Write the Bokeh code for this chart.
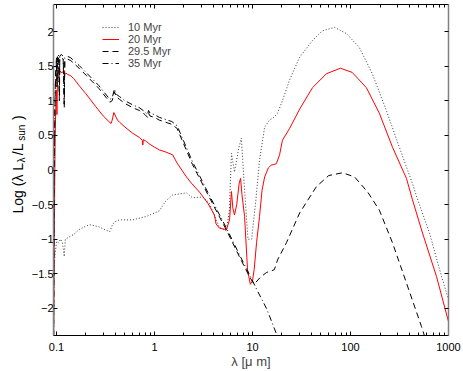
import math
from bokeh.plotting import figure
from bokeh.models import (LogAxis, LinearAxis, FixedTicker, CustomJSTickFormatter,
                          Legend, LegendItem, Label, Range1d)
from bokeh.embed import file_html
from bokeh.resources import INLINE

# ---------------- data ----------------
series_names = ["10 Myr", "20 Myr", "29.5 Myr", "35 Myr"]

wl_10 = [0.0935, 0.094, 0.095, 0.097, 0.099, 0.1, 0.105, 0.11, 0.115, 0.12, 0.123, 0.13,
         0.15, 0.17, 0.2, 0.22, 0.27, 0.32, 0.35, 0.37, 0.39, 0.44, 0.6, 0.83, 1.12, 1.3,
         1.53, 2.12, 2.44, 3.1, 3.6, 4.1, 4.6, 5.4, 5.8, 6.1, 6.55, 7.2, 7.7, 8.3, 9.0,
         9.8, 10.8, 11.8, 13.3, 14.9, 16.5, 18.0, 20.2, 23.9, 30.3, 41, 51.6, 68.8, 91,
         123, 167, 232, 315, 430, 485, 640, 850, 1000]
lum_10 = [-2.35, -1.6, -1.35, -1.2, -1.1, -1.03, -1.05, -1.0, -1.05, -1.25, -1.0, -0.98,
          -0.93, -0.86, -0.81, -0.79, -0.82, -0.87, -0.89, -0.8, -0.75, -0.72, -0.72, -0.67,
          -0.59, -0.45, -0.36, -0.33, -0.40, -0.39, -0.47, -0.66, -0.83, -0.88, -0.6, 0.24,
          -0.03, 0.3, 0.46, -0.29, -1.0, -1.0, -0.45, 0.14, 0.62, 0.72, 0.76, 0.82, 1.0,
          1.3, 1.63, 1.87, 2.01, 2.06, 1.97, 1.77, 1.39, 0.86, 0.33, -0.2, -0.43, -0.91,
          -1.54, -1.87]

wl_20 = [0.0935, 0.095, 0.097, 0.0985, 0.1, 0.101, 0.1025, 0.104, 0.107, 0.109, 0.113,
         0.116, 0.12, 0.125, 0.13, 0.14, 0.15, 0.17, 0.2, 0.25, 0.3, 0.36, 0.37, 0.385,
         0.4, 0.42, 0.44, 0.5, 0.6, 0.7, 0.75, 0.76, 0.77, 0.83, 0.9, 1.0, 1.12, 1.3,
         1.53, 1.7, 2.12, 2.38, 2.88, 3.5, 4.09, 4.25, 4.6, 5.43, 5.83, 6.1, 6.3, 6.55,
         6.9, 7.3, 7.55, 7.8, 8.3, 8.9, 9.5, 10.0, 10.4, 11.0, 11.8, 12.5, 13.3, 14.5,
         15.5, 16.5, 17.5, 18.9, 20.2, 23.9, 30.3, 41, 56.8, 79, 104, 145, 197, 268,
         372, 429, 543, 755, 1000]
lum_20 = [-2.45, -0.8, 0.5, 0.95, 1.15, 0.8, 1.35, 1.44, 1.38, 1.43, 1.40, 1.42, 1.37,
          1.40, 1.38, 1.36, 1.32, 1.22, 1.10, 0.92, 0.78, 0.67, 0.72, 0.83, 0.78, 0.72,
          0.69, 0.62, 0.53, 0.47, 0.43, 0.36, 0.44, 0.41, 0.37, 0.33, 0.29, 0.26, 0.22,
          0.10, -0.10, -0.19, -0.32, -0.48, -0.65, -0.78, -0.84, -0.86, -0.72, -0.31,
          -0.55, -0.65, -0.5, -0.2, -0.12, -0.35, -0.67, -1.44, -1.65, -1.6, -1.44, -1.05,
          -0.67, -0.3, -0.10, 0.03, 0.07, 0.08, 0.09, 0.22, 0.43, 0.6, 0.88, 1.19, 1.39,
          1.47, 1.41, 1.19, 0.82, 0.33, -0.12, -0.43, -0.91, -1.54, -2.19]

wl_295 = [0.0935, 0.0945, 0.096, 0.098, 0.1, 0.101, 0.1025, 0.105, 0.107, 0.108, 0.112,
          0.117, 0.12, 0.1215, 0.13, 0.14, 0.17, 0.2, 0.27, 0.35, 0.37, 0.39, 0.41, 0.44,
          0.5, 0.6, 0.7, 0.8, 0.85, 0.87, 0.9, 1.0, 1.12, 1.5, 1.7, 2.44, 3.64, 5.43, 7.4,
          9.3, 10.4, 12.0, 13.9, 16.7, 18.0, 22.2, 30.3, 44.9, 60, 83, 110, 150, 197, 268,
          372, 530, 600]
lum_295 = [-2.4, -0.5, 0.8, 1.35, 1.58, 1.2, 1.6, 1.62, 1.0, 1.6, 1.63, 1.60, 0.9, 1.58,
           1.6, 1.58, 1.47, 1.37, 1.18, 0.98, 1.0, 1.13, 1.05, 1.02, 0.96, 0.9, 0.86, 0.8,
           0.76, 0.82, 0.78, 0.76, 0.72, 0.66, 0.6, 0.08, -0.4, -0.87, -1.26, -1.54, -1.65,
           -1.55, -1.48, -1.44, -1.3, -1.05, -0.62, -0.24, -0.08, -0.04, -0.1, -0.32, -0.58,
           -1.05, -1.63, -2.26, -2.5]

wl_35 = [0.0935, 0.0945, 0.096, 0.098, 0.1, 0.101, 0.1025, 0.105, 0.107, 0.108, 0.112,
         0.117, 0.12, 0.1215, 0.13, 0.14, 0.17, 0.2, 0.27, 0.35, 0.37, 0.39, 0.41, 0.44,
         0.5, 0.6, 0.7, 0.8, 0.85, 0.87, 0.9, 1.0, 1.12, 1.5, 1.7, 2.44, 3.64, 5.43, 7.4,
         9.3, 11.0, 13.9, 17.6, 19.0]
lum_35 = [-2.4, -0.4, 0.9, 1.4, 1.62, 1.25, 1.64, 1.67, 1.05, 1.64, 1.67, 1.64, 0.95,
          1.62, 1.64, 1.62, 1.51, 1.41, 1.22, 1.02, 1.04, 1.17, 1.09, 1.06, 1.0, 0.94,
          0.9, 0.84, 0.8, 0.86, 0.82, 0.8, 0.76, 0.7, 0.64, 0.12, -0.37, -0.84, -1.23,
          -1.51, -1.72, -2.0, -2.37, -2.5]

x_ticks = [0.1, 1, 10, 100, 1000]
y_ticks = [-2, -1.5, -1, -0.5, 0, 0.5, 1, 1.5, 2]

# ---------------- figure ----------------
FONT = "Liberation Sans"

p = figure(width=463, height=371, x_axis_type="log",
           x_range=Range1d(0.0932, 1000), y_range=Range1d(-2.39, 2.39),
           output_backend="svg", toolbar_location=None,
           min_border_left=53, min_border_right=15, min_border_top=4, min_border_bottom=35)
p.grid.visible = False
p.outline_line_color = None
p.background_fill_color = "white"

minor_x = [m * 10 ** e for e in range(-2, 3) for m in range(2, 10)]
xticker = FixedTicker(ticks=x_ticks, minor_ticks=minor_x)
yticker = FixedTicker(ticks=y_ticks)

xfmt = CustomJSTickFormatter(code="return tick.toString();")
yfmt = CustomJSTickFormatter(code="return tick.toString().replace('-', '\\u2212');")

xa = p.xaxis[0]
xa.ticker = xticker
xa.formatter = xfmt
ya = p.yaxis[0]
ya.ticker = yticker
ya.formatter = yfmt

for ax in (xa, ya):
    ax.major_tick_in = 4
    ax.major_tick_out = 0
    ax.minor_tick_in = 3
    ax.minor_tick_out = 0
    ax.major_label_text_font = FONT
    ax.major_label_text_font_size = "11px"
    ax.major_label_text_color = "black"
    ax.axis_line_color = "black"
    ax.major_tick_line_color = "black"
    ax.minor_tick_line_color = "black"
ya.minor_tick_line_color = None
ya.major_label_standoff = 0
ya.axis_line_color = "#808080"
ya.axis_line_width = 1.5
xa.major_label_standoff = 7
xa.axis_label = "λ [μ m]"
xa.axis_label_text_font = FONT
xa.axis_label_text_font_style = "normal"
xa.axis_label_text_font_size = "13px"
xa.axis_label_standoff = 0

top = LogAxis(ticker=xticker, major_label_text_font_size="1px", major_label_text_alpha=0,
              major_label_standoff=0,
              major_tick_in=4, major_tick_out=0, minor_tick_in=3, minor_tick_out=0,
              axis_line_color="black")
right = LinearAxis(ticker=yticker, major_label_text_font_size="1px", major_label_text_alpha=0,
                   major_label_standoff=0,
                   major_tick_in=4, major_tick_out=0, minor_tick_line_color=None,
                   axis_line_color="#808080", axis_line_width=1.5)
p.add_layout(top, "above")
p.add_layout(right, "right")

# ---------------- curves ----------------
r10 = p.line(wl_10, lum_10, line_color="#3a3a3a", line_width=1, line_dash="1 2")
r20 = p.line(wl_20, lum_20, line_color="#ff0000", line_width=1)
r295 = p.line(wl_295, lum_295, line_color="black", line_width=1, line_dash="6 4")
r35 = p.line(wl_35, lum_35, line_color="black", line_width=1, line_dash="6 3 1 3")

legend = Legend(items=[LegendItem(label=n, renderers=[r]) for n, r in
                       zip(series_names, [r10, r20, r295, r35])],
                location=(49, 266), border_line_color=None, background_fill_alpha=0,
                padding=0, spacing=-1, margin=0, label_height=12, glyph_height=12,
                glyph_width=17, label_standoff=9, label_text_font=FONT,
                label_text_font_size="11px")
p.add_layout(legend)

# ---------------- y-axis label: main text + subscripts (rotated, canvas px) ----------------
NB = "\u00a0"
ylabel_main = "Log (λ L" + NB * 2 + "/L" + NB * 6 + ")"
ylabel_sub = "λ" + NB * 6 + "sun"
p.add_layout(Label(x=17, y=213, x_units="canvas", y_units="canvas", text=ylabel_main,
                   angle=math.pi / 2, text_align="left", text_baseline="alphabetic",
                   text_font=FONT, text_font_size="14px", text_color="black"), "left")
p.add_layout(Label(x=20.5, y=162, x_units="canvas", y_units="canvas", text=ylabel_sub,
                   angle=math.pi / 2, text_align="left", text_baseline="alphabetic",
                   text_font=FONT, text_font_size="10px", text_color="black"), "left")

open("out.html", "w").write(file_html(p, INLINE))
